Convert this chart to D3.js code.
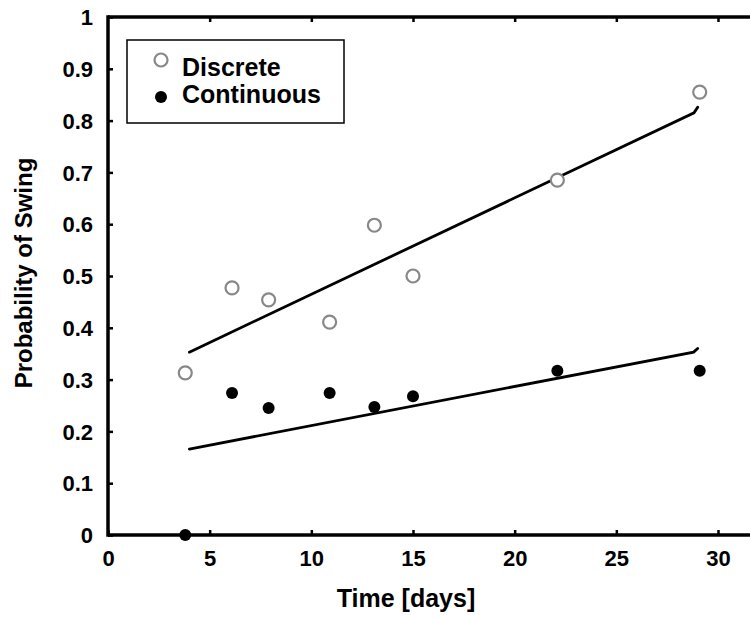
<!DOCTYPE html>
<html>
<head>
<meta charset="utf-8">
<script src="https://d3js.org/d3.v7.min.js"></script>
<style>
body { margin: 0; background: #fff; }
text { font-family: "Liberation Sans", Arial, sans-serif; font-weight: bold; fill: #000; }
</style>
</head>
<body>
<script>
// chart data
const xTicks = [0, 5, 10, 15, 20, 25, 30];
const yTicks = [0, 0.1, 0.2, 0.3, 0.4, 0.5, 0.6, 0.7, 0.8, 0.9, 1];
const yTickLabels = ["0", "0.1", "0.2", "0.3", "0.4", "0.5", "0.6", "0.7", "0.8", "0.9", "1"];
const days = [3.8, 6.1, 7.9, 10.9, 13.1, 15.0, 22.1, 29.1];
const discrete = [0.313, 0.477, 0.454, 0.411, 0.598, 0.500, 0.685, 0.855];
const continuous = [0.0, 0.274, 0.245, 0.274, 0.247, 0.268, 0.317, 0.317];
// fitted lines (with the small flick at their right end)
const discreteFitDays = [4.0, 28.82, 29.0];
const discreteFit = [0.353, 0.815, 0.826];
const continuousFitDays = [4.0, 28.8, 29.0];
const continuousFit = [0.166, 0.353, 0.360];
const seriesNames = ["Discrete", "Continuous"];

const W = 750, H = 619;
const mLeft = 108, mRight = 718, mTop = 17, mBottom = 535;

const svg = d3.select("body").append("svg")
  .attr("width", W).attr("height", H);

const x = d3.scaleLinear().domain([0, 30]).range([mLeft, mRight]);
const y = d3.scaleLinear().domain([0, 1]).range([mBottom, mTop]);

// axes (ticks point inward)
const gx = svg.append("g")
  .attr("transform", `translate(0,${mBottom})`)
  .call(d3.axisBottom(x).tickValues(xTicks).tickFormat(d3.format("d"))
    .tickSizeInner(-5).tickSizeOuter(0).tickPadding(15));
gx.selectAll("text").attr("font-size", 22);

const gTop = svg.append("g")
  .attr("transform", `translate(0,${mTop})`)
  .call(d3.axisTop(x).tickValues(xTicks.slice(1)).tickFormat("")
    .tickSizeInner(-5).tickSizeOuter(0));

const gy = svg.append("g")
  .attr("transform", `translate(${mLeft},0)`)
  .call(d3.axisLeft(y).tickValues(yTicks).tickFormat((d, i) => yTickLabels[i])
    .tickSizeInner(-5).tickSizeOuter(0).tickPadding(15));
gy.selectAll("text").attr("font-size", 22).attr("dy", "0.35em");

[gx, gTop, gy].forEach(g => {
  g.select(".domain").remove();
  g.selectAll(".tick line").attr("stroke", "#000").attr("stroke-width", 2.5);
  g.selectAll("text").attr("fill", "#000").style("font-family", "Liberation Sans, Arial, sans-serif");
});

// frame lines (plot continues past the right edge)
svg.append("line").attr("x1", mLeft).attr("x2", W).attr("y1", mTop).attr("y2", mTop)
  .attr("stroke", "#000").attr("stroke-width", 3.5);
svg.append("line").attr("x1", mLeft).attr("x2", W).attr("y1", mBottom).attr("y2", mBottom)
  .attr("stroke", "#000").attr("stroke-width", 3.5);
svg.append("line").attr("x1", mLeft).attr("x2", mLeft).attr("y1", mTop - 1.7).attr("y2", mBottom + 1.7)
  .attr("stroke", "#000").attr("stroke-width", 3.5);

// fit lines
const line = d3.line().x(d => x(d[0])).y(d => y(d[1]));
svg.append("path").datum(d3.zip(discreteFitDays, discreteFit))
  .attr("d", line).attr("fill", "none").attr("stroke", "#000").attr("stroke-width", 2.8)
  .attr("stroke-linecap", "round");
svg.append("path").datum(d3.zip(continuousFitDays, continuousFit))
  .attr("d", line).attr("fill", "none").attr("stroke", "#000").attr("stroke-width", 2.8)
  .attr("stroke-linecap", "round");

// points
svg.selectAll(".disc").data(d3.zip(days, discrete)).enter().append("circle")
  .attr("cx", d => x(d[0])).attr("cy", d => y(d[1])).attr("r", 6.5)
  .attr("fill", "#fff").attr("stroke", "#888").attr("stroke-width", 2.2);
svg.selectAll(".cont").data(d3.zip(days, continuous)).enter().append("circle")
  .attr("cx", d => x(d[0])).attr("cy", d => y(d[1])).attr("r", 6)
  .attr("fill", "#000");

// legend
svg.append("rect").attr("x", 127).attr("y", 40).attr("width", 217).attr("height", 83)
  .attr("fill", "#fff").attr("stroke", "#000").attr("stroke-width", 1.5);
svg.append("circle").attr("cx", 161).attr("cy", 60).attr("r", 6.5)
  .attr("fill", "#fff").attr("stroke", "#888").attr("stroke-width", 2.2);
svg.append("circle").attr("cx", 161).attr("cy", 97).attr("r", 6).attr("fill", "#000");
svg.append("text").attr("x", 182).attr("y", 76).attr("font-size", 25).text(seriesNames[0]);
svg.append("text").attr("x", 182).attr("y", 103).attr("font-size", 25).text(seriesNames[1]);

// axis titles
svg.append("text").attr("x", 406).attr("y", 607).attr("text-anchor", "middle")
  .attr("font-size", 25).text("Time [days]");
svg.append("text").attr("transform", "translate(32,273) rotate(-90)")
  .attr("text-anchor", "middle").attr("font-size", 24).text("Probability of Swing");
</script>
</body>
</html>
